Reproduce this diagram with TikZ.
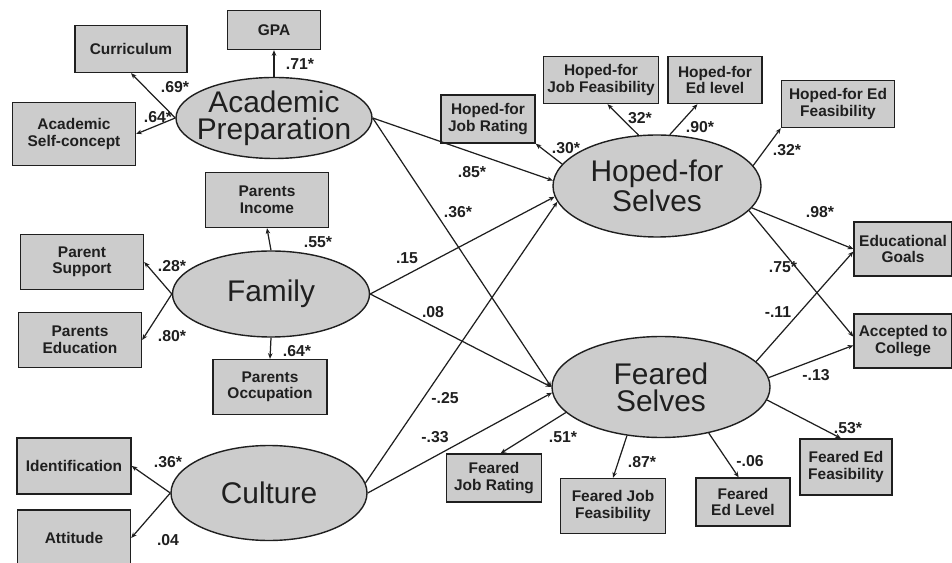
\documentclass[tikz,border=0pt]{standalone}
\usepackage{fontspec}
\setmainfont{Liberation Sans}
\usetikzlibrary{shapes.geometric,arrows.meta}

\definecolor{fillgray}{gray}{0.80}
\definecolor{inkgray}{gray}{0.12}

\tikzset{
  obs/.style 2 args={draw=inkgray, line width=0.8pt, fill=fillgray, align=center,
    inner sep=0pt, text=inkgray, font=\fontsize{8.8}{9.4}\selectfont\bfseries,
    minimum width=#1*0.02cm, minimum height=#2*0.02cm},
  latent/.style 2 args={ellipse, draw=inkgray, line width=0.8pt, fill=fillgray,
    inner sep=0pt, minimum width=#1*0.02cm, minimum height=#2*0.02cm},
  lat/.style={align=center, text=inkgray, font=\fontsize{17}{15.5}\selectfont},
  coef/.style={inner sep=0pt, text=inkgray, font=\fontsize{9}{10}\selectfont\bfseries},
  link/.style={draw=inkgray, line width=0.7pt, -{Stealth[length=3.2pt,width=2.6pt]}},
}

\begin{document}
\begin{tikzpicture}[x=0.02cm, y=-0.02cm]
\useasboundingbox (0,0) rectangle (952,563);

% latent variables
\node[latent={196}{81}, label={[lat]center:Academic\\Preparation}] (acad) at (274,118) {};
\node[latent={197}{86}, label={[lat]center:Family}] (fam) at (271,294) {};
\node[latent={196}{95}, label={[lat]center:Culture}] (cult) at (269,493) {};
\node[latent={208}{102}, label={[lat]center:Hoped-for\\Selves}] (hope) at (657,186) {};
\node[latent={218}{101}, label={[lat]center:Feared\\Selves}] (fear) at (661,387) {};

% indicators
\node[obs={93}{39}] (gpa) at (274,30) {GPA};
\node[obs={112}{47}] (curr) at (131,49) {Curriculum};
\node[obs={123}{63}] (asc) at (74,134) {Academic\\Self-concept};
\node[obs={123}{55}] (inc) at (267,200) {Parents\\Income};
\node[obs={123}{55}] (sup) at (82,262) {Parent\\Support};
\node[obs={123}{55}] (pedu) at (80,340) {Parents\\Education};
\node[obs={114}{55}] (occ) at (270,387) {Parents\\Occupation};
\node[obs={114}{56}] (ident) at (74,466) {Identification};
\node[obs={113}{56}] (att) at (74,538) {Attitude};
\node[obs={94}{48}] (hjr) at (488,119) {Hoped-for\\Job Rating};
\node[obs={115}{47}] (hjf) at (601,80) {Hoped-for\\Job Feasibility};
\node[obs={94}{47}] (hel) at (715,80) {Hoped-for\\Ed level};
\node[obs={113}{47}] (hef) at (838,104) {Hoped-for Ed\\Feasibility};
\node[obs={98}{54}] (goals) at (903,249) {Educational\\Goals};
\node[obs={98}{54}] (acc) at (903,341) {Accepted to\\College};
\node[obs={95}{48}] (fjr) at (494,478) {Feared\\Job Rating};
\node[obs={105}{55}] (fjf) at (613,506) {Feared Job\\Feasibility};
\node[obs={94}{48}] (fel) at (743,502) {Feared\\Ed Level};
\node[obs={92}{56}] (fef) at (846,467) {Feared Ed\\Feasibility};

% measurement paths
\draw[link] (acad.north) -- (gpa.south);
\draw[link] (acad.west) -- (curr.south);
\draw[link] (acad.west) -- (asc.east);
\draw[link] (fam.north) -- (inc.south);
\draw[link] (fam.west) -- (sup.east);
\draw[link] (fam.west) -- (pedu.east);
\draw[link] (fam.south) -- (occ.north);
\draw[link] (cult.west) -- (ident.east);
\draw[link] (cult.west) -- (att.east);
\draw[link] (hope.167) -- (hjr.south east);
\draw[link] (hope.110) -- (hjf.-75);
\draw[link] (hope.76) -- (hel.234);
\draw[link] (hope.12) -- (hef.south west);
\draw[link] (fear.195) -- (fjr.75);
\draw[link] (fear.235) -- (fjf.north);
\draw[link] (fear.316) -- (fel.100);
\draw[link] (fear.-7) -- (fef.100);

% structural paths
\draw[link] (acad.east) -- (hope.177);
\draw[link] (acad.east) -- (fear.west);
\draw[link] (fam.east) -- (hope.186);
\draw[link] (fam.east) -- (fear.west);
\draw[link] (cult.6) -- (hope.189);
\draw[link] (cult.east) -- (fear.183);
\draw[link] (hope.-13) -- (goals.west);
\draw[link] (hope.-15) -- (acc.175);
\draw[link] (fear.15) -- (goals.183);
\draw[link] (fear.5) -- (acc.185);

% coefficients
\node[coef] (c1) at (300,64) {.71*};
\node[coef] (c2) at (175,87) {.69*};
\node[coef] (c3) at (158,117) {.64*};
\node[coef] (c4) at (318,242) {.55*};
\node[coef] (c5) at (172,266) {.28*};
\node[coef] (c6) at (172,336) {.80*};
\node[coef] (c7) at (297,351) {.64*};
\node[coef] (c8) at (168,462) {.36*};
\node[coef] (c9) at (168,540) {.04};
\node[coef] (c10) at (472,172) {.85*};
\node[coef] (c11) at (458,212) {.36*};
\node[coef] (c12) at (407,258) {.15};
\node[coef] (c13) at (433,312) {.08};
\node[coef] (c14) at (445,398) {-.25};
\node[coef] (c15) at (435,437) {-.33};
\node[coef] (c16) at (566,148) {.30*};
\node[coef] (c17) at (640,118) {32*};
\node[coef] (c18) at (700,127) {.90*};
\node[coef] (c19) at (787,150) {.32*};
\node[coef] (c20) at (820,212) {.98*};
\node[coef] (c21) at (783,267) {.75*};
\node[coef] (c22) at (778,312) {-.11};
\node[coef] (c23) at (816,375) {-.13};
\node[coef] (c24) at (848,428) {.53*};
\node[coef] (c25) at (563,437) {.51*};
\node[coef] (c26) at (642,462) {.87*};
\node[coef] (c27) at (750,461) {-.06};

\end{tikzpicture}
\end{document}
